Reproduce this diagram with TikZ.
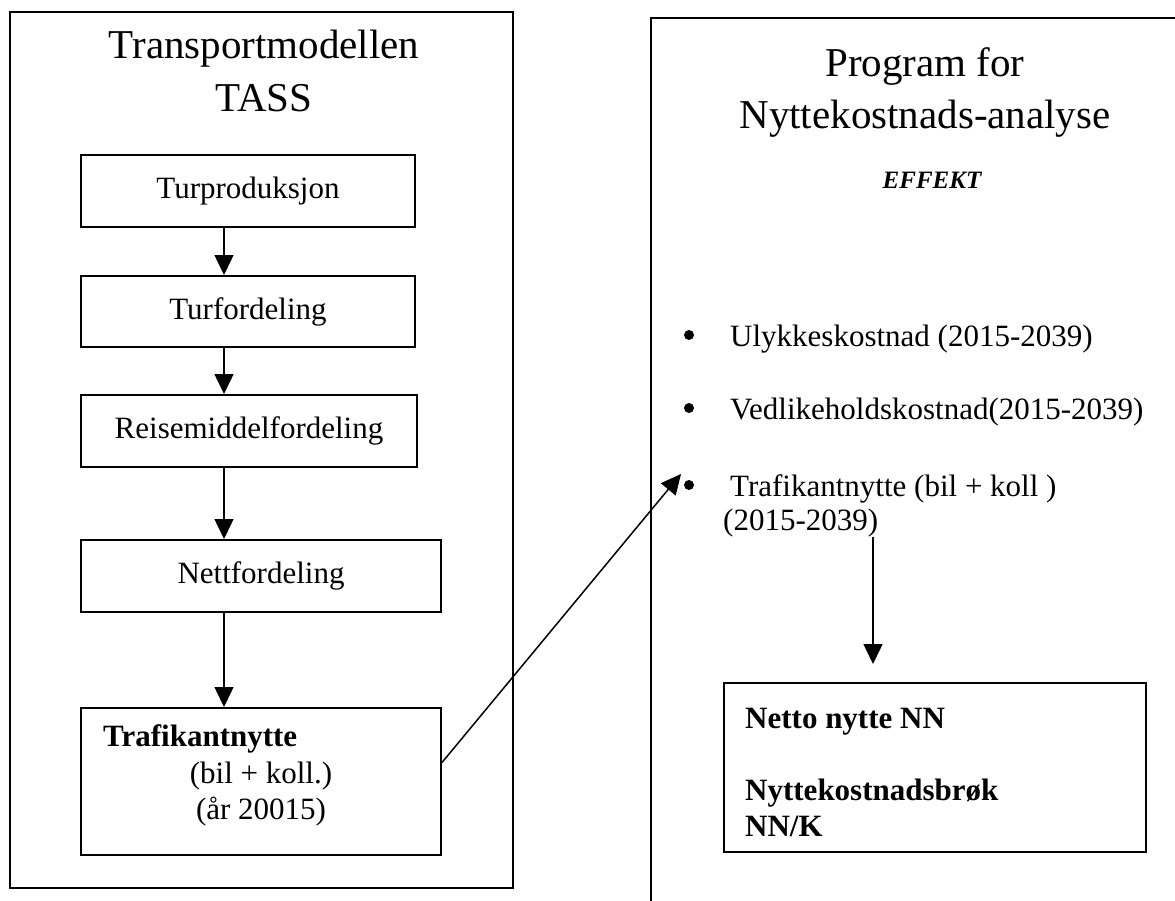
\documentclass[tikz,border=0pt]{standalone}
\usepackage{fontspec}
\setmainfont{Liberation Serif}
\usetikzlibrary{arrows.meta}
\begin{document}
\begin{tikzpicture}[x=1pt,y=-1pt,
  frame/.style={draw, line width=2pt, inner sep=0pt},
  stepbox/.style={draw, line width=2pt, inner sep=0pt, font=\fontsize{31}{36}\selectfont},
  body/.style={font=\fontsize{31}{36}\selectfont, inner sep=0pt},
  bodyb/.style={font=\fontsize{31}{36}\selectfont\bfseries, inner sep=0pt},
  title/.style={font=\fontsize{41}{50}\selectfont, inner sep=0pt},
  flow/.style={line width=1.5pt, -{Triangle[length=20pt,width=19pt]}},
  bullet/.style={circle, fill, inner sep=0pt, minimum size=10pt},
]
\useasboundingbox (0,0) rectangle (1175,900);
\clip (0,0) rectangle (1175,900);

% left frame
\node[frame, minimum width=503pt, minimum height=876pt] (lf) at (261.5,450) {};
\node[title, anchor=base] (lt1) at (264,58) {Transportmodellen};
\node[title, anchor=base] (lt2) at (264,111) {TASS};

\node[stepbox, minimum width=334pt, minimum height=72pt] (b1) at (248,191) {Turproduksjon};
\node[stepbox, minimum width=334pt, minimum height=71pt] (b2) at (248,311.5) {Turfordeling};
\node[stepbox, minimum width=336pt, minimum height=72pt] (b3) at (249,431) {Reisemiddelfordeling};
\node[stepbox, minimum width=360pt, minimum height=72pt] (b4) at (261,576) {Nettfordeling};
\node[stepbox, minimum width=360pt, minimum height=147pt] (b5) at (261,781.5) {};
\node[bodyb, anchor=base west] (b5a) at (103,746) {Trafikantnytte};
\node[body, anchor=base] (b5b) at (261,783) {(bil + koll.)};
\node[body, anchor=base] (b5c) at (261,819) {(år 20015)};

\coordinate (ax) at (224,0);
\draw[flow] (b1.south -| ax) -- (b2.north -| ax);
\draw[flow] (b2.south -| ax) -- (b3.north -| ax);
\draw[flow] (b3.south -| ax) -- (b4.north -| ax);
\draw[flow] (b4.south -| ax) -- (b5.north -| ax);

% right frame (open at right and bottom)
\coordinate (rtr) at (1185,18);
\coordinate (rtl) at (651,18);
\coordinate (rbl) at (651,910);
\draw[line width=2pt] (rtr) -- (rtl) -- (rbl);
\node[title, anchor=base] (rt1) at (925,76) {Program for};
\node[title, anchor=base] (rt2) at (925,128) {Nyttekostnads-analyse};
\node[font=\fontsize{25}{30}\selectfont\bfseries\itshape, inner sep=0pt, anchor=base] (eff) at (932,188) {EFFEKT};

\node[bullet] (u1) at (689,335) {};
\node[body, anchor=base west] (t1) at (730,346) {Ulykkeskostnad (2015-2039)};
\node[bullet] (u2) at (689,408) {};
\node[body, anchor=base west] (t2) at (730,419) {Vedlikeholdskostnad(2015-2039)};
\node[bullet] (u3) at (689,485) {};
\node[body, anchor=base west] (t3) at (730,496) {Trafikantnytte (bil + koll )};
\node[body, anchor=base west] (t4) at (723,530) {(2015-2039)};

% result box
\node[stepbox, minimum width=422pt, minimum height=169pt] (res) at (935,767.5) {};
\node[bodyb, anchor=base west] (r1) at (745,728) {Netto nytte NN};
\node[bodyb, anchor=base west] (r2) at (745,800) {Nyttekostnadsbrøk};
\node[bodyb, anchor=base west] (r3) at (745,836) {NN/K};

\coordinate (bx) at (873,0);
\draw[flow] (t4.south -| bx) -- ([yshift=18pt]res.north -| bx);

% diagonal connector
\coordinate (tip) at (681,474);
\draw[flow] ([yshift=19pt]b5.east) -- (tip);
\end{tikzpicture}
\end{document}
